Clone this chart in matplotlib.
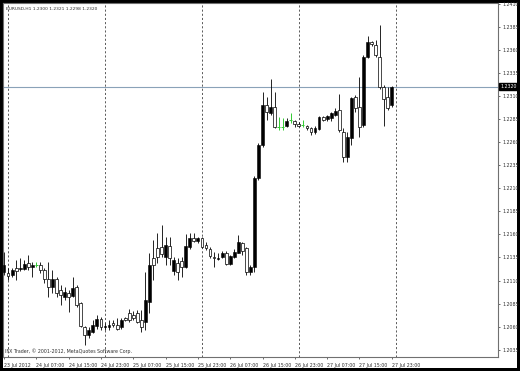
import matplotlib
matplotlib.use('Agg')
import matplotlib.pyplot as plt
import numpy as np
from matplotlib.patches import Rectangle

# EURUSD H1 bars, 23 Jul 2012 23:00 -> 27 Jul 2012 23:00
opens = [1.2119, 1.2118, 1.2116, 1.2124, 1.2122, 1.2122, 1.2129, 1.2125, 1.2127, 1.2127,
         1.2121, 1.2112, 1.2103, 1.2112, 1.2100, 1.2092, 1.2096, 1.2093, 1.2103, 1.2086,
         1.2060, 1.2051, 1.2054, 1.2061, 1.2068, 1.2060, 1.2060, 1.2064, 1.2062, 1.2060,
         1.2069, 1.2075, 1.2073, 1.2075, 1.2067, 1.2065, 1.2087, 1.2134, 1.2145, 1.2146,
         1.2135, 1.2147, 1.2120, 1.2129, 1.2131, 1.2125, 1.2146, 1.2156, 1.2153, 1.2156,
         1.2148, 1.2144, 1.2135, 1.2133, 1.2135, 1.2140, 1.2128, 1.2135, 1.2140, 1.2151,
         1.2145, 1.2119, 1.2125, 1.2221, 1.2257, 1.2300, 1.2292, 1.2298, 1.2276, 1.2276,
         1.2277, 1.2284, 1.2283, 1.2280, 1.2278, 1.2277, 1.2275, 1.2271, 1.2274, 1.2287,
         1.2285, 1.2286, 1.2289, 1.2295, 1.2271, 1.2244, 1.2264, 1.2309, 1.2298, 1.2278,
         1.2352, 1.2368, 1.2365, 1.2352, 1.2320, 1.2309, 1.2300]
highs = [1.2141, 1.2124, 1.2124, 1.2132, 1.2134, 1.2132, 1.2138, 1.2130, 1.2130, 1.2130,
         1.2124, 1.2130, 1.2121, 1.2114, 1.2105, 1.2103, 1.2100, 1.2114, 1.2105, 1.2087,
         1.2061, 1.2060, 1.2067, 1.2073, 1.2070, 1.2064, 1.2067, 1.2067, 1.2069, 1.2069,
         1.2070, 1.2079, 1.2077, 1.2078, 1.2078, 1.2119, 1.2140, 1.2154, 1.2161, 1.2170,
         1.2157, 1.2157, 1.2135, 1.2134, 1.2135, 1.2160, 1.2161, 1.2161, 1.2157, 1.2157,
         1.2152, 1.2146, 1.2141, 1.2140, 1.2142, 1.2142, 1.2138, 1.2144, 1.2159, 1.2152,
         1.2146, 1.2127, 1.2223, 1.2259, 1.2314, 1.2309, 1.2328, 1.2314, 1.2287, 1.2286,
         1.2286, 1.2292, 1.2284, 1.2282, 1.2284, 1.2278, 1.2276, 1.2277, 1.2288, 1.2288,
         1.2289, 1.2293, 1.2297, 1.2312, 1.2275, 1.2271, 1.2309, 1.2311, 1.2331, 1.2354,
         1.2375, 1.2370, 1.2371, 1.2387, 1.2322, 1.2320, 1.2321]
lows = [1.2116, 1.2111, 1.2114, 1.2111, 1.2120, 1.2121, 1.2121, 1.2114, 1.2125, 1.2118,
        1.2107, 1.2092, 1.2096, 1.2092, 1.2083, 1.2089, 1.2076, 1.2092, 1.2081, 1.2060,
        1.2040, 1.2048, 1.2053, 1.2058, 1.2056, 1.2056, 1.2056, 1.2060, 1.2056, 1.2058,
        1.2066, 1.2065, 1.2067, 1.2064, 1.2054, 1.2056, 1.2075, 1.2111, 1.2129, 1.2135,
        1.2127, 1.2127, 1.2116, 1.2111, 1.2114, 1.2124, 1.2144, 1.2152, 1.2151, 1.2145,
        1.2143, 1.2134, 1.2125, 1.2132, 1.2134, 1.2127, 1.2127, 1.2134, 1.2140, 1.2138,
        1.2116, 1.2116, 1.2119, 1.2219, 1.2255, 1.2284, 1.2289, 1.2275, 1.2273, 1.2273,
        1.2276, 1.2281, 1.2276, 1.2276, 1.2276, 1.2273, 1.2268, 1.2269, 1.2273, 1.2283,
        1.2283, 1.2283, 1.2288, 1.2271, 1.2238, 1.2238, 1.2257, 1.2293, 1.2266, 1.2276,
        1.2351, 1.2364, 1.2352, 1.2318, 1.2277, 1.2295, 1.2298]
closes = [1.2127, 1.2115, 1.2121, 1.2120, 1.2124, 1.2128, 1.2125, 1.2127, 1.2127, 1.2121,
          1.2112, 1.2103, 1.2112, 1.2096, 1.2094, 1.2098, 1.2092, 1.2102, 1.2083, 1.2061,
          1.2051, 1.2056, 1.2062, 1.2068, 1.2060, 1.2061, 1.2062, 1.2062, 1.2057, 1.2067,
          1.2067, 1.2067, 1.2069, 1.2065, 1.2060, 1.2089, 1.2127, 1.2127, 1.2135, 1.2139,
          1.2148, 1.2134, 1.2132, 1.2119, 1.2125, 1.2147, 1.2156, 1.2153, 1.2156, 1.2146,
          1.2145, 1.2137, 1.2134, 1.2134, 1.2140, 1.2128, 1.2137, 1.2141, 1.2152, 1.2142,
          1.2119, 1.2125, 1.2221, 1.2257, 1.2300, 1.2293, 1.2298, 1.2276, 1.2276, 1.2276,
          1.2283, 1.2284, 1.2280, 1.2277, 1.2278, 1.2275, 1.2271, 1.2275, 1.2287, 1.2284,
          1.2288, 1.2292, 1.2294, 1.2273, 1.2244, 1.2266, 1.2308, 1.2297, 1.2276, 1.2352,
          1.2368, 1.2366, 1.2354, 1.2320, 1.2307, 1.2297, 1.2320]

price_ticks = [1.2035, 1.2060, 1.2085, 1.2110, 1.2135, 1.2160, 1.2185, 1.2210,
               1.2235, 1.2260, 1.2285, 1.2310, 1.2335, 1.2360, 1.2385, 1.2410]
time_labels = ['23 Jul 2012', '24 Jul 07:00', '24 Jul 15:00', '24 Jul 23:00', '25 Jul 07:00',
               '25 Jul 15:00', '25 Jul 23:00', '26 Jul 07:00', '26 Jul 15:00', '26 Jul 23:00',
               '27 Jul 07:00', '27 Jul 15:00', '27 Jul 23:00']
day_breaks = [1, 25, 49, 73, 97]      # bar index of period separators
last_price = 1.2320

W, H = 520, 371
fig = plt.figure(figsize=(W/100., H/100.), dpi=100, facecolor='black')
bg = Rectangle((3./W, (H-368.)/H), 514./W, 365./H, transform=fig.transFigure,
               facecolor='white', edgecolor='none', zorder=-10)
fig.patches.append(bg)
ax = fig.add_axes([3./W, (H-357.)/H, 495./W, 354./H])
ax.set_facecolor('white')

x = np.arange(len(opens))
o = np.array(opens); c = np.array(closes)
hi = np.array(highs); lo = np.array(lows)
up = c > o
dn = c < o
doji = c == o

# wicks
ax.vlines(x[~doji], lo[~doji], hi[~doji], color='black', lw=0.6, zorder=2)
ax.vlines(x[doji], lo[doji], hi[doji], color='#33cc33', lw=0.7, zorder=2)
ax.hlines(o[doji], x[doji]-0.35, x[doji]+0.35, color='#33cc33', lw=0.7, zorder=3)
# bodies: black = bull, white = bear
ax.bar(x[up], c[up]-o[up], bottom=o[up], width=0.7, color='black', edgecolor='black', lw=0.4, zorder=3)
ax.bar(x[dn], o[dn]-c[dn], bottom=c[dn], width=0.7, color='white', edgecolor='black', lw=0.5, zorder=3)

for d in day_breaks:
    ax.axvline(d, color='#404040', lw=0.6, linestyle=(0, (2.5, 2.5)), zorder=1)
ax.axhline(last_price, color='#8aa2b8', lw=0.8, zorder=1)

ax.set_xlim(-0.25, 122.3)
ax.set_ylim(1.2414-0.00010837*357, 1.2414-0.00010837*3)

ax.yaxis.tick_right()
ax.set_yticks(price_ticks)
ax.set_yticklabels(['%.4f' % p for p in price_ticks])
ax.tick_params(axis='y', length=1.5, width=0.5, pad=1.5, labelsize=3.4, colors='#303030')
ax.set_xticks(np.arange(0, 8*len(time_labels), 8))
ax.set_xticklabels(time_labels, ha='left')
ax.tick_params(axis='x', length=1.5, width=0.5, pad=2.5, labelsize=3.4, colors='#303030')

# current price box
ax.text(1.004, last_price, '%.4f' % last_price, transform=ax.get_yaxis_transform(),
        fontsize=3.4, color='white', va='center', ha='left', zorder=5,
        bbox=dict(facecolor='black', edgecolor='black', pad=0.6))

ax.text(3./495, 1-6./354, 'EURUSD,H1 1.2300 1.2321 1.2298 1.2320', transform=ax.transAxes,
        fontsize=3.2, color='#303030', va='center', ha='left')
ax.text(2./495, 6./354, 'IFX Trader, \u00a9 2001-2012, MetaQuotes Software Corp.', transform=ax.transAxes,
        fontsize=3.4, color='#303030', va='center', ha='left')

for s in ax.spines.values():
    s.set_color('#707070')
    s.set_linewidth(0.8)

plt.savefig('out.png', dpi=100, facecolor='black')
